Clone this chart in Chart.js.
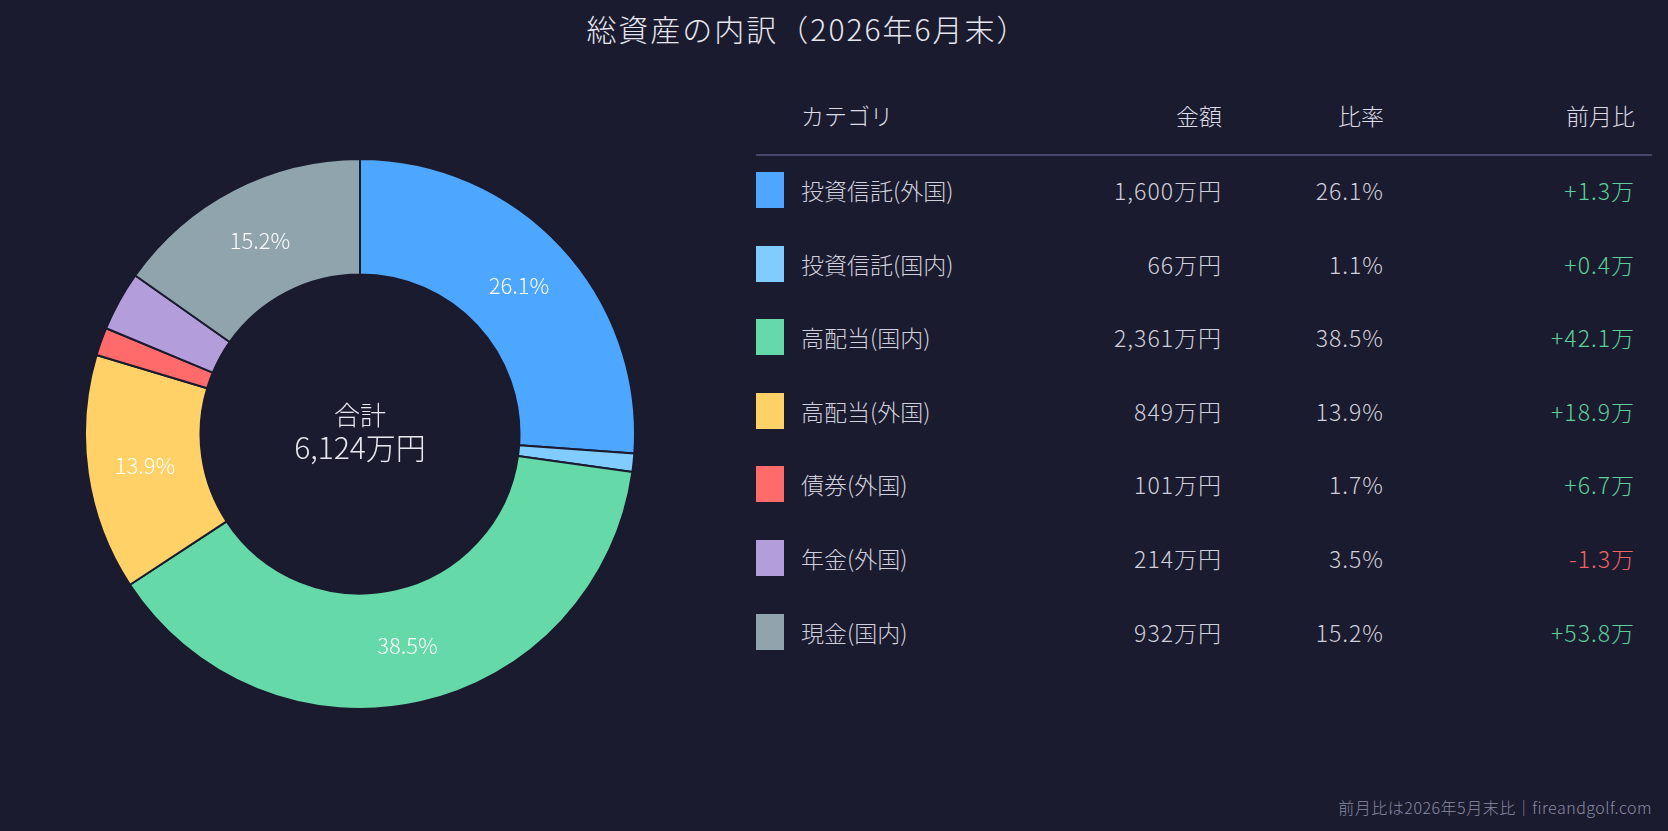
<!DOCTYPE html>
<html lang="ja">
<head>
<meta charset="utf-8">
<script src="https://cdn.jsdelivr.net/npm/chart.js@4.4.1/dist/chart.umd.min.js"></script>
<style>
  html, body { margin: 0; padding: 0; background: #1a1b2e; }
  body { width: 1668px; height: 831px; position: relative; overflow: hidden;
         font-family: "Noto Sans CJK JP", "Noto Sans", sans-serif; font-weight: 300; color: #d6d6e0; }
  #title { position: absolute; left: 0; width: 1615px; top: 6px; text-align: center;
           font-size: 30px; letter-spacing: 2px; color: #e6e6ee; }
  #wrap { position: absolute; left: 84px; top: 158px; width: 552px; height: 552px; }
  .cell { position: absolute; font-size: 23px; line-height: 30px; white-space: nowrap; }
  .num { letter-spacing: 1px; }
  .sw { position: absolute; width: 28px; height: 36px; }
  #line { position: absolute; left: 756px; top: 154px; width: 896px; height: 2px; background: #45466a; }
  #foot { position: absolute; right: 16px; top: 795px; font-size: 16px; letter-spacing: 0.5px; color: #8a8aa6; }
</style>
</head>
<body>
<div id="title">総資産の内訳（2026年6月末）</div>
<div id="wrap"><canvas id="dona"></canvas></div>
<div id="tabla"></div>
<div id="line"></div>
<div id="foot">前月比は2026年5月末比｜fireandgolf.com</div>

<script>
// datos
const categorias = ['投資信託(外国)', '投資信託(国内)', '高配当(国内)', '高配当(外国)', '債券(外国)', '年金(外国)', '現金(国内)'];
const montos = [1600, 66, 2361, 849, 101, 214, 932];          // 万円
const ratios = [26.1, 1.1, 38.5, 13.9, 1.7, 3.5, 15.2];       // %
const cambios = [1.3, 0.4, 42.1, 18.9, 6.7, -1.3, 53.8];      // 万 vs mes anterior
const colores = ['#4da6ff', '#80ccff', '#66d9a8', '#ffd166', '#ff6b6b', '#b39ddb', '#90a4ae'];
const totalTexto = '6,124万円';

const bg = '#1a1b2e';

// tabla a la derecha
const tabla = document.getElementById('tabla');
function celda(txt, css, num) {
  const d = document.createElement('div');
  d.className = num ? 'cell num' : 'cell';
  d.textContent = txt;
  Object.assign(d.style, css);
  tabla.appendChild(d);
}
const colDer = { monto: 1668 - 1222, ratio: 1668 - 1384, cambio: 1668 - 1635 };
const yHead = 100;
celda('カテゴリ', { left: '801px', top: yHead + 'px', color: '#dcdce6' });
celda('金額', { right: colDer.monto + 'px', top: yHead + 'px', color: '#dcdce6' });
celda('比率', { right: colDer.ratio + 'px', top: yHead + 'px', color: '#dcdce6' });
celda('前月比', { right: colDer.cambio + 'px', top: yHead + 'px', color: '#dcdce6' });

categorias.forEach((c, i) => {
  const yc = 190 + i * 73.6;
  const sw = document.createElement('div');
  sw.className = 'sw';
  sw.style.left = '756px';
  sw.style.top = (yc - 18) + 'px';
  sw.style.background = colores[i];
  tabla.appendChild(sw);
  const top = (yc - 15) + 'px';
  celda(c, { left: '801px', top: top, color: '#d0d0dc' });
  celda(montos[i].toLocaleString('en-US') + '万円', { right: colDer.monto + 'px', top: top, color: '#d0d0dc' }, true);
  celda(ratios[i].toFixed(1) + '%', { right: colDer.ratio + 'px', top: top, color: '#d0d0dc' }, true);
  const v = cambios[i];
  celda((v >= 0 ? '+' : '') + v.toFixed(1) + '万', { right: colDer.cambio + 'px', top: top, color: v >= 0 ? '#5ccf9a' : '#f26363' }, true);
});

// etiquetas de porcentaje y texto central
const etiquetas = {
  id: 'etiquetas',
  afterDatasetsDraw(chart) {
    const ctx = chart.ctx;
    const meta = chart.getDatasetMeta(0);
    ctx.save();
    ctx.textAlign = 'center';
    ctx.textBaseline = 'middle';
    ctx.fillStyle = '#ffffff';
    ctx.font = '300 22px "Noto Sans CJK JP"';
    meta.data.forEach((arc, i) => {
      if (ratios[i] < 5) return;
      const p = arc.tooltipPosition();
      ctx.fillText(ratios[i].toFixed(1) + '%', p.x, p.y);
    });
    const a = chart.chartArea;
    const cx = (a.left + a.right) / 2, cy = (a.top + a.bottom) / 2;
    ctx.fillStyle = '#e6e6ee';
    ctx.font = '300 26px "Noto Sans CJK JP"';
    ctx.fillText('合計', cx, cy - 19);
    ctx.font = '300 30px "Noto Sans CJK JP"';
    ctx.fillText(totalTexto, cx, cy + 14);
    ctx.restore();
  }
};

const ctx = document.getElementById('dona').getContext('2d');
new Chart(ctx, {
  type: 'doughnut',
  data: {
    labels: categorias,
    datasets: [{
      data: montos,
      backgroundColor: colores,
      borderColor: bg,
      borderWidth: 2
    }]
  },
  options: {
    responsive: true,
    maintainAspectRatio: false,
    animation: false,
    cutout: '58%',
    plugins: {
      legend: { display: false },
      tooltip: { enabled: false }
    }
  },
  plugins: [etiquetas]
});
</script>
</body>
</html>
